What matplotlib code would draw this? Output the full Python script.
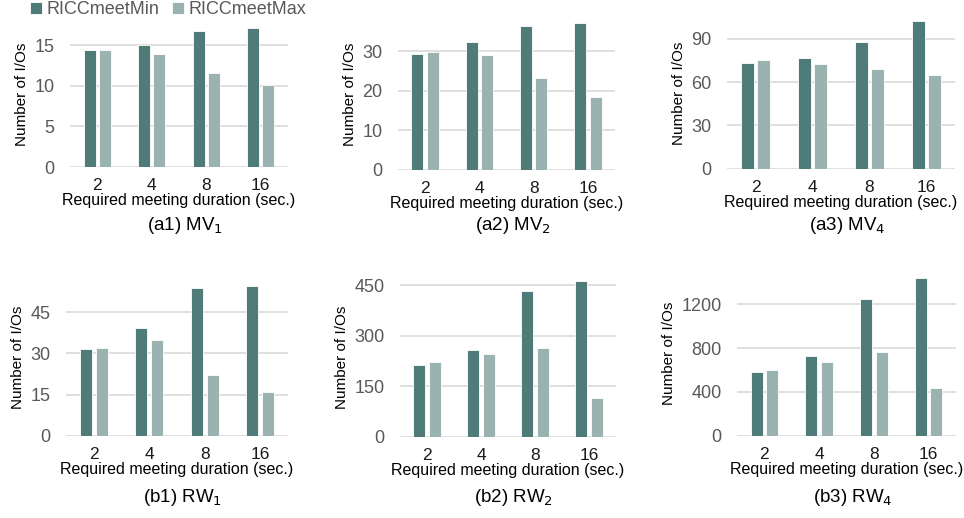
import matplotlib
matplotlib.use("Agg")
import matplotlib.pyplot as plt
import numpy as np

plt.rcParams['font.family'] = ['Liberation Sans', 'DejaVu Sans']

durations = ["2", "4", "8", "16"]
series_names = ["RICCmeetMin", "RICCmeetMax"]

# per-panel values (min, max)
a1_min = [14.4, 15.0, 16.8, 17.1]
a1_max = [14.4, 13.9, 11.6, 10.1]
a2_min = [29.3, 32.3, 36.4, 37.0]
a2_max = [29.8, 28.9, 23.3, 18.5]
a3_min = [72.9, 76.6, 87.9, 102.0]
a3_max = [75.5, 72.7, 69.0, 64.8]
b1_min = [31.6, 39.4, 54.0, 54.5]
b1_max = [32.1, 34.8, 22.3, 15.8]
b2_min = [212, 256, 433, 461]
b2_max = [222, 246, 263, 115]
b3_min = [579, 728, 1246, 1438]
b3_max = [600, 673, 765, 436]

titles = ["(a1) MV$_1$", "(a2) MV$_2$", "(a3) MV$_4$",
          "(b1) RW$_1$", "(b2) RW$_2$", "(b3) RW$_4$"]

col_min = "#4F7C78"
col_max = "#9AB3B1"
grid_col = "#D9D9D9"

W, H = 964, 518
fig = plt.figure(figsize=(W / 100, H / 100), dpi=100)

# left px, right px, baseline px, top px
panels = [
    (a1_min, a1_max, 18, [0, 5, 10, 15], (70, 288, 167, 21)),
    (a2_min, a2_max, 38, [0, 10, 20, 30], (398, 615, 169.7, 19.4)),
    (a3_min, a3_max, 105, [0, 30, 60, 90], (727, 955, 168.7, 17.1)),
    (b1_min, b1_max, 57, [0, 15, 30, 45], (66, 288, 435.7, 279.4)),
    (b2_min, b2_max, 470, [0, 150, 300, 450], (400, 616, 436.7, 278.3)),
    (b3_min, b3_max, 1500, [0, 400, 800, 1200], (737, 956, 435.7, 271.6)),
]

x = np.arange(len(durations))
bw = 0.22
off = 0.142

for i, (vmin, vmax, top, yt, (l, r, b, t)) in enumerate(panels):
    ax = fig.add_axes([l / W, 1 - b / H, (r - l) / W, (b - t) / H])
    ax.bar(x - off, vmin, bw, color=col_min, edgecolor="white", linewidth=0.6,
           label=series_names[0], zorder=3)
    ax.bar(x + off, vmax, bw, color=col_max, edgecolor="white", linewidth=0.6,
           label=series_names[1], zorder=3)
    ax.set_xlim(-0.5, len(durations) - 0.5)
    ax.set_ylim(0, top)
    ax.set_yticks(yt)
    ax.set_xticks(x)
    ax.set_xticklabels(durations)
    for s in ax.spines.values():
        s.set_visible(False)
    ax.yaxis.grid(True, color=grid_col, linewidth=1.2, zorder=0)
    ax.set_axisbelow(True)
    ax.tick_params(axis="y", length=0, pad=11, labelsize=13, labelcolor="#595959")
    ax.tick_params(axis="x", length=0, pad=8, labelsize=12.5, labelcolor="#1a1a1a")
    ax.set_xlabel("Required meeting duration (sec.)", fontsize=11.5, labelpad=0)
    ax.set_ylabel("Number of I/Os", fontsize=11, labelpad=4)
    ty = 226 if i < 3 else 498
    fig.text((l + r) / 2 / W + 6 / W, 1 - ty / H, titles[i], ha="center",
             va="center", fontsize=13.5)
    if i == 0:
        handles, labels = ax.get_legend_handles_labels()

fig.legend(handles, labels, loc="center left", bbox_to_anchor=(30 / W, 1 - 10 / H),
           ncol=2, frameon=False, fontsize=13, handlelength=0.65,
           handleheight=0.65, handletextpad=0.25, columnspacing=0.7,
           labelcolor="#595959", borderaxespad=0, borderpad=0)

fig.savefig("out.png", dpi=100)
